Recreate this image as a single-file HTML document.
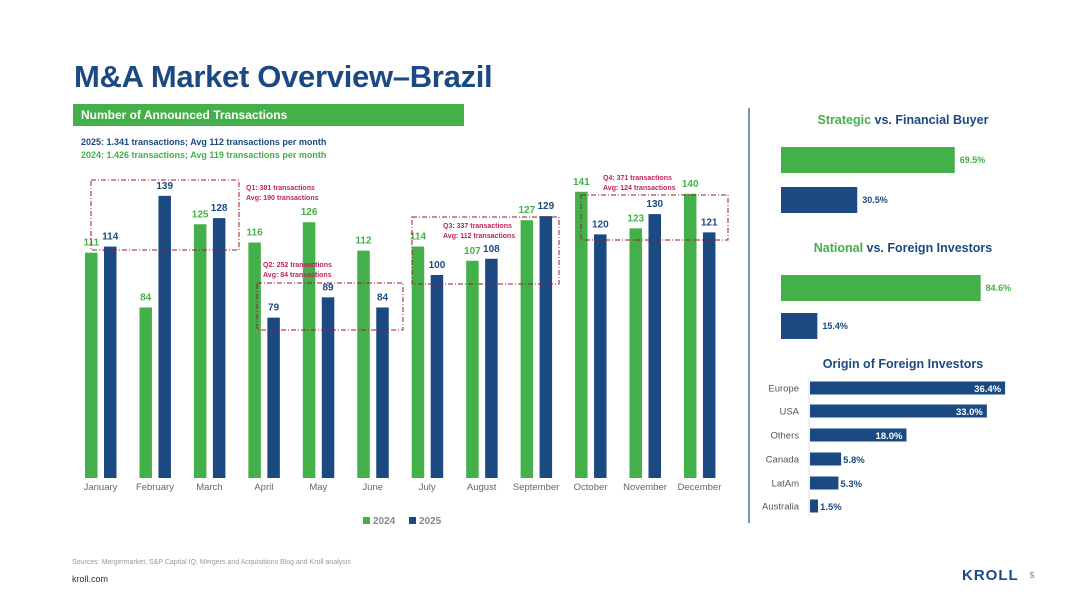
<!DOCTYPE html>
<html><head><meta charset="utf-8">
<style>
body{margin:0;width:1067px;height:600px;background:#fff;overflow:hidden;font-family:"Liberation Sans",sans-serif}
svg{position:absolute;left:0;top:0}
</style></head><body>
<svg id="s" width="1067" height="600" viewBox="0 0 1067 600" xmlns="http://www.w3.org/2000/svg" font-family="Liberation Sans, sans-serif">
<text x="74" y="87" font-size="31" font-weight="bold" fill="#1b4a82" letter-spacing="-0.3">M&amp;A Market Overview–Brazil</text>
<rect x="73" y="104" width="391" height="22" fill="#44b04a"/>
<text x="81" y="119" font-size="12" font-weight="bold" fill="#fff">Number of Announced Transactions</text>
<text x="81" y="145" font-size="9" font-weight="bold" fill="#1b4a82">2025: 1.341 transactions; Avg 112 transactions per month</text>
<text x="81" y="158" font-size="9" font-weight="bold" fill="#44b04a">2024: 1.426 transactions; Avg 119 transactions per month</text>
<g id="chart"></g>
<g>
<rect x="363" y="517" width="7" height="7" fill="#44b04a"/>
<text x="373" y="524" font-size="10" font-weight="bold" fill="#888">2024</text>
<rect x="409" y="517" width="7" height="7" fill="#1b4a82"/>
<text x="419" y="524" font-size="10" font-weight="bold" fill="#888">2025</text>
</g>
<line x1="749" y1="108" x2="749" y2="523" stroke="#1b4a82" stroke-width="1.2"/>
<text x="903" y="124" font-size="12.5" font-weight="bold" text-anchor="middle"><tspan fill="#44b04a">Strategic</tspan><tspan fill="#1b4a82"> vs. Financial Buyer</tspan></text>
<text x="903" y="252" font-size="12.5" font-weight="bold" text-anchor="middle"><tspan fill="#44b04a">National</tspan><tspan fill="#1b4a82"> vs. Foreign Investors</tspan></text>
<text x="903" y="368" font-size="12.5" font-weight="bold" text-anchor="middle" fill="#1b4a82">Origin of Foreign Investors</text>
<line x1="809" y1="378" x2="809" y2="516" stroke="#ddd" stroke-width="0.8"/>
<g id="right"></g>
<text x="72" y="564" font-size="7" fill="#999">Sources: Mergermarket, S&amp;P Capital IQ, Mergers and Acquisitions Blog and Kroll analysis</text>
<text x="72" y="582" font-size="9" fill="#333">kroll.com</text>
<text x="962" y="580" font-size="15" font-weight="bold" fill="#1b4a82" letter-spacing="1">KROLL</text>
<text x="1030" y="578" font-size="8" fill="#555">5</text>
</svg>
<script>
const months=["January","February","March","April","May","June","July","August","September","October","November","December"];
const values2024=[111,84,125,116,126,112,114,107,127,141,123,140];
const values2025=[114,139,128,79,89,84,100,108,129,120,130,121];
const quarterLabels=[["Q1: 381 transactions","Avg: 190 transactions"],["Q2: 252 transactions","Avg: 84 transactions"],["Q3: 337 transactions","Avg: 112 transactions"],["Q4: 371 transactions","Avg: 124 transactions"]];
const strategicLabels=["Strategic","Financial"];
const strategicValues=[69.5,30.5];
const nationalLabels=["National","Foreign"];
const nationalValues=[84.6,15.4];
const originLabels=["Europe","USA","Others","Canada","LatAm","Australia"];
const originValues=[36.4,33.0,18.0,5.8,5.3,1.5];

const NS="http://www.w3.org/2000/svg";
function mk(tag,attrs,parent,text){const e=document.createElementNS(NS,tag);for(const k in attrs)e.setAttribute(k,attrs[k]);if(text!==undefined)e.textContent=text;parent.appendChild(e);return e;}
const G="#44b04a",B="#1b4a82";
const chart=document.getElementById('chart');
const base=478,k=2.03;
const y=v=>base-v*k;
const xg=i=>85+i*54.45;
const bw=12.5;
months.forEach((m,i)=>{
 const x0=xg(i);
 const r1=mk('rect',{x:x0,y:y(values2024[i]),width:bw,height:values2024[i]*k,fill:G},chart);
 
 
 const r2=mk('rect',{x:x0+19,y:y(values2025[i]),width:bw,height:values2025[i]*k,fill:B},chart);
 
 
 const t1=mk('text',{x:x0+bw/2,y:y(values2024[i])-7,'font-size':10,'font-weight':'bold',fill:G,'text-anchor':'middle'},chart,values2024[i]);
 
 
 const t2=mk('text',{x:x0+19+bw/2,y:y(values2025[i])-7,'font-size':10,'font-weight':'bold',fill:B,'text-anchor':'middle'},chart,values2025[i]);
 
 
 const ml=mk('text',{x:x0+15.5,y:490,'font-size':9.5,fill:'#666','text-anchor':'middle'},chart,m);
 
 
});
const boxes=[[91,180,239,250],[257,283,403,330],[412,217,559,284],[581,195,728,240]];
for(let q=0;q<4;q++){
 const b=boxes[q];
 const r=mk('rect',{x:b[0],y:b[1],width:b[2]-b[0],height:b[3]-b[1],fill:'none',stroke:'#9b1b30','stroke-width':1,'stroke-dasharray':'5,2,1,2'},chart);
 
 
 const lx=[246,263,443,603][q], ly=[190,267,228,180][q];
 quarterLabels[q].forEach((s,j)=>{
  const t=mk('text',{x:lx,y:ly+j*10,'font-size':7,'font-weight':'bold',fill:'#c0245c'},chart,s);
  
  
 });
}
const right=document.getElementById('right');
function hpair(labels,vals,scale,ys,prefix){
 vals.forEach((v,i)=>{
  const c=i==0?G:B;
  const r=mk('rect',{x:781,y:ys[i],width:v*scale,height:26,fill:c},right);
  
  
  const t=mk('text',{x:781+v*scale+5,y:ys[i]+16,'font-size':9,'font-weight':'bold',fill:c},right,v.toFixed(1)+'%');
  
  
 });
}
hpair(strategicLabels,strategicValues,2.5,[147,187],'strategic');
hpair(nationalLabels,nationalValues,2.36,[275,313],'national');
const oys=[388,411,435,459,483,506];
originLabels.forEach((l,i)=>{
 const v=originValues[i],w=v*5.36,cy=oys[i];
 const r=mk('rect',{x:810,y:cy-6.5,width:w,height:13,fill:B},right);
 
 
 const lab=mk('text',{x:799,y:cy+3.5,'font-size':9.5,fill:'#555','text-anchor':'end'},right,l);
 
 
 const inside=v>10;
 const t=mk('text',{x:inside?810+w-4:810+w+2,y:cy+4,'font-size':9.5,'font-weight':'bold',fill:inside?'#fff':B,'text-anchor':inside?'end':'start'},right,v.toFixed(1)+'%');
 
 
});
</script>
</body></html>
